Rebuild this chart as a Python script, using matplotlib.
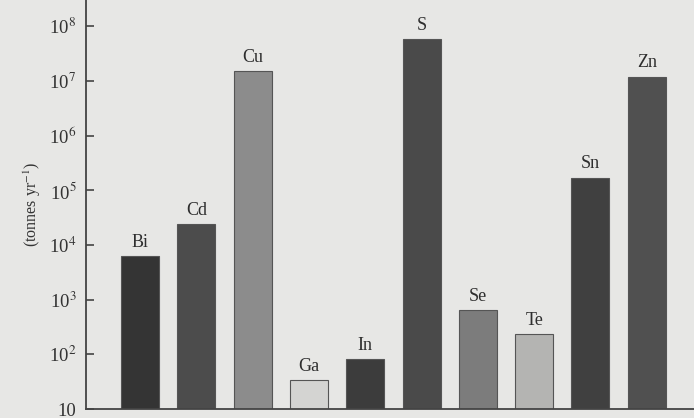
import numpy as np
import matplotlib
matplotlib.use('Agg')
from matplotlib import pyplot as plt

# annual production (tonnes per year)
elements = ['Bi', 'Cd', 'Cu', 'Ga', 'In', 'S', 'Se', 'Te', 'Sn', 'Zn']
production = [6.3e3, 2.4e4, 1.5e7, 34, 82, 5.8e7, 650, 235, 1.7e5, 1.2e7]
shades = ['#343434', '#4c4c4c', '#8c8c8c', '#d4d4d2', '#3c3c3c',
          '#4a4a4a', '#7c7c7c', '#b4b4b2', '#404040', '#505050']
ytick_vals = [1e1, 1e2, 1e3, 1e4, 1e5, 1e6, 1e7, 1e8]
ytick_labels = ['10', '10$^2$', '10$^3$', '10$^4$', '10$^5$', '10$^6$', '10$^7$', '10$^8$']

plt.rcParams['font.family'] = ['Liberation Serif', 'DejaVu Serif']
plt.rcParams['mathtext.fontset'] = 'stix'

bg = '#e7e7e5'
fig = plt.figure(figsize=(6.94, 4.18), dpi=100, facecolor=bg)
ax = fig.add_axes([0.124, 0.0215, 0.876, 0.9785], facecolor=bg)

x = np.arange(len(elements))
ax.bar(x, production, width=0.675, color=shades,
       edgecolor='#555555', linewidth=0.8)
for xi, v, name in zip(x, production, elements):
    ax.text(xi, v * 1.25, name, ha='center', va='bottom',
            fontsize=13, color='#2e2e2e')

ax.set_yscale('log')
ax.set_ylim(10, 10 ** 8.48)
ax.set_xlim(-0.96, 9.84)
ax.set_yticks(ytick_vals)
ax.set_yticklabels(ytick_labels, fontsize=13.5, color='#333333')
ax.yaxis.set_minor_locator(matplotlib.ticker.NullLocator())
ax.tick_params(axis='y', direction='in', length=6, width=1.2, color='#444444', pad=7)
ax.set_xticks([])
for s in ['top', 'right']:
    ax.spines[s].set_visible(False)
for s in ['left', 'bottom']:
    ax.spines[s].set_color('#444444')
    ax.spines[s].set_linewidth(1.3)
ax.set_ylabel('(tonnes yr$^{-1}$)', fontsize=11.5, color='#333333', labelpad=4)

plt.savefig('out.png', dpi=100, facecolor=bg)
